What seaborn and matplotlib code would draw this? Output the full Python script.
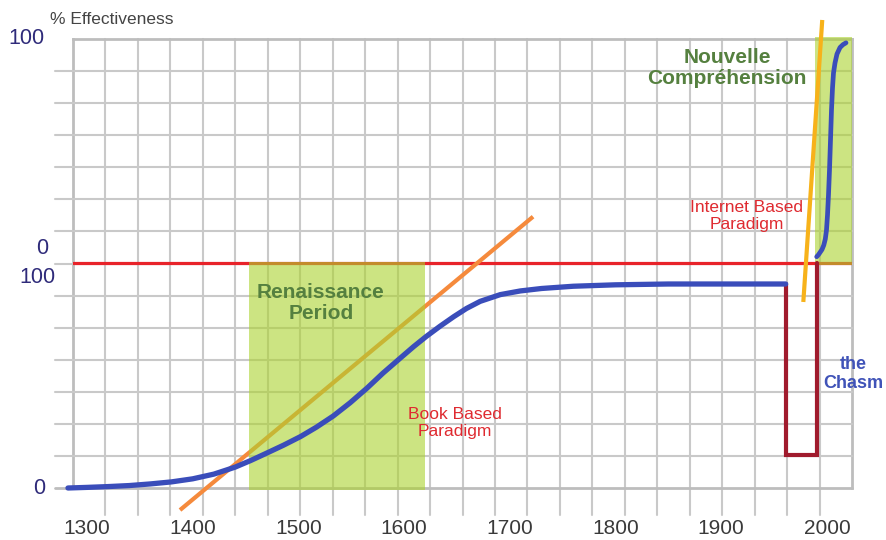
import numpy as np
import pandas as pd
import matplotlib
matplotlib.use("Agg")
import matplotlib.pyplot as plt
import seaborn as sns
from matplotlib.patches import Rectangle

# Book-based paradigm: effectiveness (%) through the centuries (lower scale)
book_years = [1282, 1300, 1320, 1340, 1360, 1380, 1400, 1420, 1440, 1455,
              1470, 1486, 1502, 1517, 1533, 1549, 1565, 1580, 1596, 1609,
              1621, 1634, 1647, 1659, 1672, 1691, 1710, 1730, 1760, 1800,
              1850, 1961]
book_effect = [0, 0.3, 0.7, 1.2, 2, 3, 4.5, 6.8, 10.2, 13.5,
               17.1, 21, 25.2, 29.8, 35.3, 41.8, 49, 56.3, 63.5, 69.3,
               74.3, 79.3, 84, 88, 91.5, 94.8, 96.6, 97.8, 98.9, 99.6,
               100, 100]

# Internet-based paradigm: effectiveness (%) on the upper scale
net_years = [1990.35, 1992.05, 1993.47, 1995.36, 1997.07, 1998.49, 1999.62,
             2000.57, 2001.51, 2002.46, 2003.41, 2004.35, 2005.30, 2006.24,
             2007.66, 2009.55, 2012.39, 2015.23, 2018.07]
net_effect = [2.8, 3.7, 4.7, 6.0, 8.0, 10.7, 14.7,
              21.4, 30.4, 41.5, 54.9, 68.3, 78.1, 84.8,
              89.3, 93.3, 96.2, 97.5, 98.3]

# Growth trend lines
book_trend_years = [1388, 1722]
book_trend_effect = [-10.8, 133]
net_trend_years = [1977.7, 1995.6]
net_trend_effect = [-17.4, 108.5]

# The chasm between the two paradigms
chasm_years = [1961, 1961, 1991, 1991]
chasm_effect = [100, 16, 16]

# Highlighted periods
renaissance = (1453, 1620)
nouvelle = (1988.7, 2023.75)

x_ticks = [1300, 1400, 1500, 1600, 1700, 1800, 1900, 2000]

# Axis frame
X0, X1 = 1286.76, 2023.75
Y0, Y1 = 0.0, 220.1
PX_PER_YEAR = 1.057
PX_PER_UNIT = 2.04


def upper(u):
    """Map the upper percent scale onto the lower-scale axis units."""
    return 110.29 + 1.098 * np.asarray(u, dtype=float)


PARADIGM = float(upper(0))


def at(px, py):
    """Layout helper: figure pixel position -> data coordinates."""
    return 1300 + (px - 87) / PX_PER_YEAR, (488 - py) / PX_PER_UNIT


sns.set_theme(style="white")
plt.rcParams["font.family"] = ["Liberation Sans", "DejaVu Sans"]

fig = plt.figure(figsize=(8.86, 5.40), dpi=100)
ax = fig.add_axes([73 / 886, 52 / 540, 779 / 886, 449 / 540])
ax.set_xlim(X0, X1)
ax.set_ylim(Y0, Y1)
for s in ax.spines.values():
    s.set_visible(False)

grid_c = "#C9C9C9"
# vertical grid
xs = np.linspace(X0, X1, 25)
for i, x in enumerate(xs):
    if i in (0, 24):
        ax.plot([x, x], [Y0, Y1], color="#BDBDBD", lw=2.0, zorder=1,
                clip_on=False, solid_capstyle="projecting")
    else:
        ax.plot([x, x], [-13.2, Y1], color=grid_c, lw=1.5, zorder=1,
                clip_on=False)
# horizontal grid
ys = np.linspace(Y0, Y1, 15)
for j, y in enumerate(ys):
    if j == 14:
        ax.plot([X0, X1], [y, y], color="#BDBDBD", lw=2.0, zorder=1,
                clip_on=False, solid_capstyle="projecting")
    else:
        lw = 2.0 if j == 0 else 1.5
        col = "#BDBDBD" if j == 0 else grid_c
        ax.plot([1269.7, X1], [y, y], color=col, lw=lw, zorder=1,
                clip_on=False)

# paradigm line (0 of the upper scale)
ax.plot([X0, X1], [PARADIGM, PARADIGM], color="#E8232A", lw=2.3, zorder=2)

# book trend line (under the highlight)
ax.plot(book_trend_years, book_trend_effect, color="#F58A3C", lw=3.0,
        zorder=3, clip_on=False, solid_capstyle="butt")

# highlighted periods
green = (171 / 255, 210 / 255, 47 / 255)
ax.add_patch(Rectangle((renaissance[0], -1), renaissance[1] - renaissance[0],
                       PARADIGM + 1.6, facecolor=green, alpha=0.6, lw=0,
                       zorder=4, clip_on=False))
ax.add_patch(Rectangle((nouvelle[0], PARADIGM - 0.8), nouvelle[1] - nouvelle[0],
                       Y1 - PARADIGM + 1.6, facecolor=green, alpha=0.6, lw=0,
                       zorder=4, clip_on=False))

# chasm
ax.plot(chasm_years, chasm_effect + [PARADIGM], color="#A01B2D", lw=3.0,
        zorder=5, solid_joinstyle="miter")

# effectiveness curves
book_df = pd.DataFrame({"year": book_years, "effect": book_effect})
net_df = pd.DataFrame({"year": net_years, "effect": upper(net_effect)})
sns.lineplot(data=book_df, x="year", y="effect", ax=ax, color="#3A4DBA",
             lw=3.8, estimator=None, sort=False, zorder=6,
             solid_capstyle="round", solid_joinstyle="round")
sns.lineplot(data=net_df, x="year", y="effect", ax=ax, color="#3A4DBA",
             lw=3.4, estimator=None, sort=False, zorder=6,
             solid_capstyle="round", solid_joinstyle="round")
ax.lines[-1].set_clip_on(False)
ax.lines[-2].set_clip_on(False)

# internet trend line
ax.plot(net_trend_years, upper(net_trend_effect), color="#F7B21A", lw=3.0,
        zorder=6, clip_on=False, solid_capstyle="butt")

# axes labels
ax.set_xlabel("")
ax.set_ylabel("")
ax.set_xticks(x_ticks)
ax.set_xticklabels([str(t) for t in x_ticks], fontsize=15, color="#3A3A3A")
ax.tick_params(axis="x", length=0, pad=22)
ax.set_yticks([])

navy = "#2F2B7A"
for (px, py), s in [((26, 38), "100"), ((42, 248), "0"),
                    ((37, 277), "100"), ((39, 488), "0")]:
    x, y = at(px, py)
    ax.text(x, y, s, ha="center", va="center", fontsize=15.5, color=navy,
            clip_on=False)

x, y = at(50, 19)
ax.text(x, y, "% Effectiveness", ha="left", va="center", fontsize=12.5,
        color="#444444", clip_on=False)

gtxt = "#55803F"
x, y = at(321, 303)
ax.text(x, y, "Renaissance\nPeriod", ha="center", va="center", fontsize=15,
        fontweight="bold", color=gtxt, linespacing=1.1, zorder=7)
x, y = at(727, 68)
ax.text(x, y, "Nouvelle\nCompréhension", ha="center", va="center",
        fontsize=15, fontweight="bold", color=gtxt, linespacing=1.1,
        zorder=7)

rtxt = "#DF2A30"
x, y = at(455, 423)
ax.text(x, y, "Book Based\nParadigm", ha="center", va="center", fontsize=12.5,
        color=rtxt, linespacing=1.15, zorder=7)
x, y = at(747, 216)
ax.text(x, y, "Internet Based\nParadigm", ha="center", va="center",
        fontsize=12.5, color=rtxt, linespacing=1.15, zorder=7)

x, y = at(853, 374)
ax.text(x, y, "the\nChasm", ha="center", va="center", fontsize=13,
        fontweight="bold", color="#4053B8", linespacing=1.15, zorder=7,
        clip_on=False)

fig.savefig("out.png", dpi=100, facecolor="white")
